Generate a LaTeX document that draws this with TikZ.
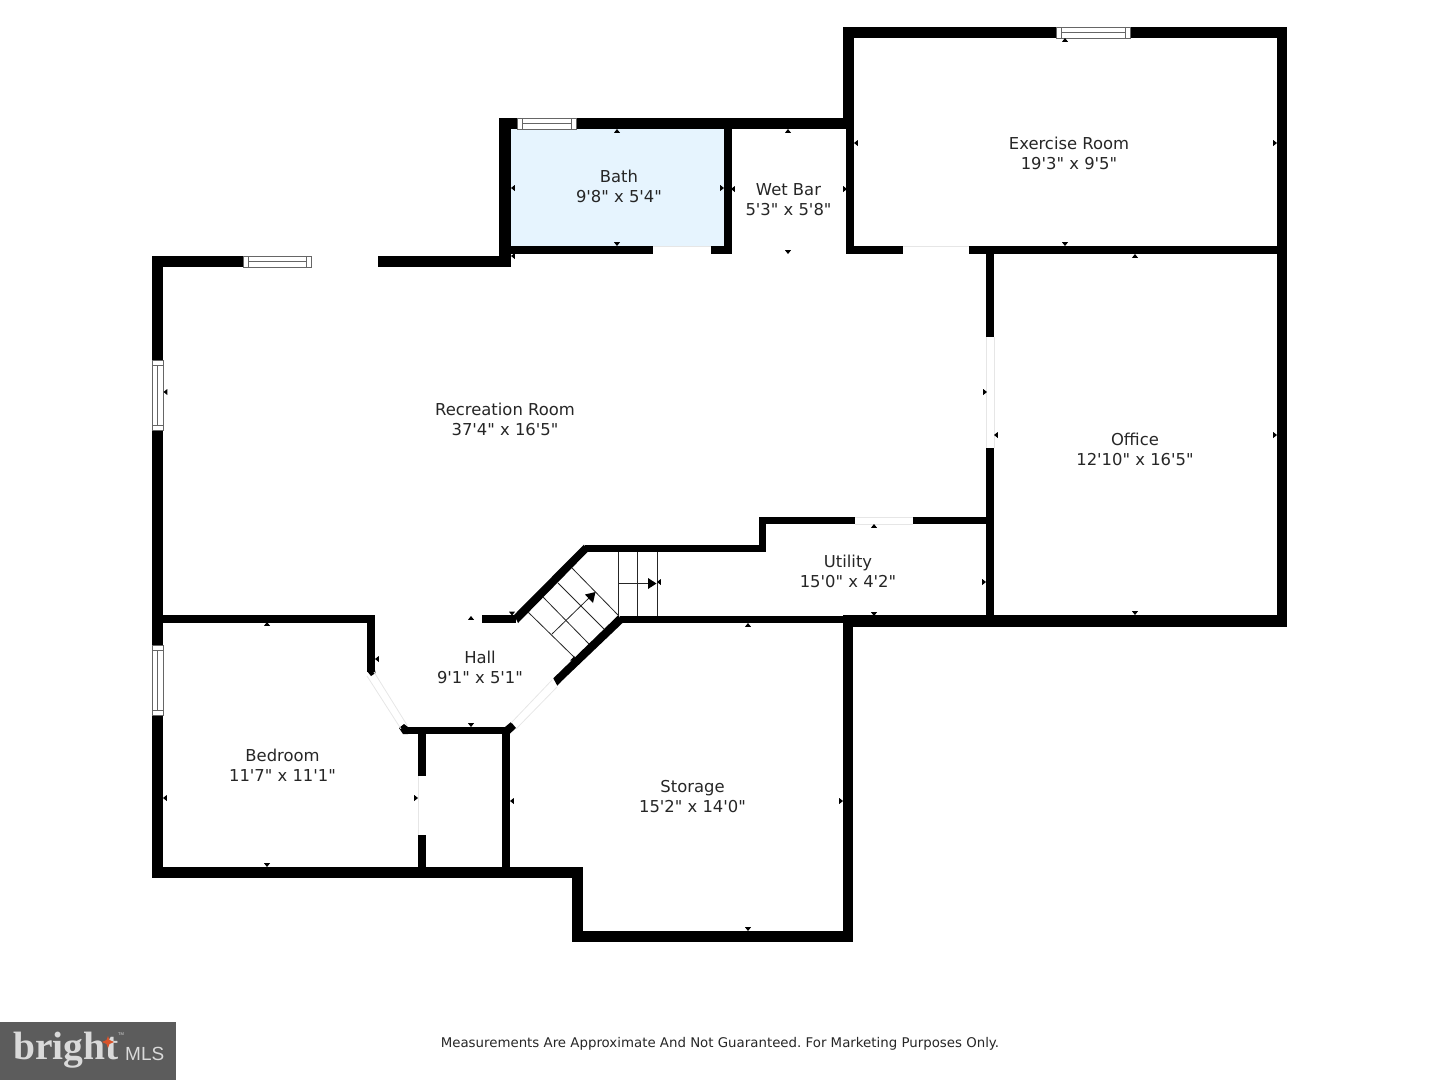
\documentclass[tikz,border=0pt]{standalone}
\usepackage{fontspec}
\newfontfamily\planfont{DejaVu Sans}
\newfontfamily\logofont{Liberation Serif}
\newfontfamily\mlsfont{Liberation Sans}
\definecolor{bathblue}{HTML}{E6F4FE}
\definecolor{logogray}{HTML}{5C5C5C}
\definecolor{logotext}{HTML}{DADADA}
\definecolor{doorgray}{HTML}{E6E6E6}
\definecolor{wingray}{HTML}{666666}
\definecolor{logored}{HTML}{D9542B}
\tikzset{
	roomlabel/.style={align=center, inner sep=0pt, font=\planfont\fontsize{16.4}{20.2}\selectfont, text=black!85},
	wall/.style={fill=black},
	doorline/.style={draw=doorgray, line width=0.8pt},
	winpane/.style={draw=wingray, fill=white, line width=0.9pt},
	stairline/.style={draw=black!85, line width=0.8pt}
}
\begin{document}
\frenchspacing
\begin{tikzpicture}[x=1pt, y=-1pt]
	\useasboundingbox (0,0) rectangle (1440,1080);
	\fill[bathblue] (511,129) rectangle (724,246);

	% walls
	\foreach \xa/\ya/\xb/\yb in {
		843/27/1287/38, 843/27/854/128, 846/128/854/254, 1277/27/1287/627,
		846/246/903/254, 969/246/1287/254,
		499/118/854/129, 499/118/511/267, 724/129/732/254, 511/246/653/254, 711/246/732/254,
		152/256/243/267, 378/256/511/267, 152/256/163/878,
		986/250/994/337, 986/448/994/620,
		759/517/855/524, 913/517/990/524, 759/517/766/552, 585/545/766/552,
		482/615/516/623, 620/616/850/623, 843/615/1287/627,
		843/620/853/942, 572/931/853/942, 572/867/583/942, 152/867/583/878,
		502/730/509.5/870, 418/730/426/776, 418/835/426/870, 404/727/509.5/734,
		152/615/375/622.5, 367/615/375/672}{
		\fill[wall] (\xa,\ya) rectangle (\xb,\yb);
	}
	\fill[wall] (584,544.5) -- (587.5,552) -- (518,623) -- (514,615) -- cycle;
	\fill[wall] (618.5,615) -- (622.5,623) -- (561.7,681) -- (557.3,685.7) -- (553.3,678.3) -- cycle;
	\fill[wall] (367,671) -- (371,676) -- (375.5,673) -- (375,670) -- cycle;
	\fill[wall] (399,728) -- (404,724) -- (408,727) -- (408,734) -- (403,734) -- cycle;
	\fill[wall] (511,722) -- (516,728) -- (509.5,734) -- (505,727) -- cycle;

	% doors
	\foreach \xa/\ya/\xb/\yb in {
		903/246/969/246, 653/246/711/246, 855/517/913/517, 855/524/913/524,
		986/337/986/448, 994/337/994/448, 418/776/418/835,
		367/676/401/729, 374/672/407/725, 511/723/552/680, 516/729/557/687}{
		\draw[doorline] (\xa,\ya) -- (\xb,\yb);
	}

	% windows along the top
	\foreach \xa/\xb/\ya/\yb in {1056/1130/27/38, 517/576/118/129, 243/311/256/267}{
		\fill[white] (\xa,\ya) rectangle (\xb,\yb);
		\draw[winpane] (\xa,\ya) rectangle (\xb,\yb);
		\draw[wingray, line width=0.9pt] (\xa+5,\ya) -- (\xa+5,\yb);
		\draw[wingray, line width=0.9pt] (\xb-5,\ya) -- (\xb-5,\yb);
		\draw[wingray, line width=0.9pt] (\xa+5,\ya+5.5) -- (\xb-5,\ya+5.5);
	}
	% windows along the left
	\foreach \ya/\yb in {360/430, 645/715}{
		\fill[white] (152,\ya) rectangle (163,\yb);
		\draw[winpane] (152,\ya) rectangle (163,\yb);
		\draw[wingray, line width=0.9pt] (152,\ya+5) -- (163,\ya+5);
		\draw[wingray, line width=0.9pt] (152,\yb-5) -- (163,\yb-5);
		\draw[wingray, line width=0.9pt] (157.5,\ya+5) -- (157.5,\yb-5);
	}

	% stairs
	\foreach \xa/\ya/\xb/\yb in {572/568/618/615, 558/583/604/629, 543/597/589/644, 528/612/575/658,
		618/552/618/616, 637/552/637/616, 657/552/657/616}{
		\draw[stairline] (\xa,\ya) -- (\xb,\yb);
	}
	\coordinate (stairA) at (552,634);
	\coordinate (stairB) at (590,597);
	\coordinate (stairC) at (618,583.5);
	\coordinate (stairD) at (650,583.5);
	\draw[stairline] (stairA) -- (stairB);
	\draw[stairline] (stairC) -- (stairD);
	\fill[black] (595.5,592) -- (593,603) -- (585,594.5) -- cycle;
	\fill[black] (656.5,583.5) -- (648,578) -- (648,589) -- cycle;

	% small measuring ticks, tip at x/y, angle gives the direction
	\foreach \x/\y/\a in {
		1065/38/90, 854/143/180, 1277/143/0, 1065/246/270,
		1135/254/90, 994/435/180, 1277/435/0, 1135/615/270,
		788/129/90, 731/189/180, 847/189/0, 788/254/270,
		617/129/90, 511/188/180, 724/188/0, 617/246/270,
		163.5/392/180, 987/392/0, 511/256/180,
		874/524/90, 986/582/0, 874/616/270, 657/582/180,
		748/623/90, 510/801/180, 843/801/0, 748/931/270,
		267/622/90, 163/798/180, 418/798/0, 267/867/270,
		471/616/90, 375/659/180, 471/727/270, 512/615.5/270, 575/661/315}{
		\fill[black, shift={(\x,\y)}, rotate=\a] (0,0) -- (-3.8,-3) -- (-3.8,3) -- cycle;
	}

	% room labels
	\node[roomlabel] (exercise) at (1069,153.5) {Exercise Room\\19'3" x 9'5"};
	\node[roomlabel] (bath) at (619,186.5) {Bath\\9'8" x 5'4"};
	\node[roomlabel] (wetbar) at (788.5,199.5) {Wet Bar\\5'3" x 5'8"};
	\node[roomlabel] (recroom) at (505,419.5) {Recreation Room\\37'4" x 16'5"};
	\node[roomlabel] (office) at (1135,449.5) {Office\\12'10" x 16'5"};
	\node[roomlabel] (utility) at (848,571) {Utility\\15'0" x 4'2"};
	\node[roomlabel] (hall) at (480,667.5) {Hall\\9'1" x 5'1"};
	\node[roomlabel] (bedroom) at (282.5,765) {Bedroom\\11'7" x 11'1"};
	\node[roomlabel] (storage) at (692.5,796.5) {Storage\\15'2" x 14'0"};

	\node[inner sep=0pt, text=black!85, font=\planfont\fontsize{13.35}{16}\selectfont] (disclaimer) at (720,1043.5)
		{Measurements Are Approximate And Not Guaranteed. For Marketing Purposes Only.};

	% logo
	\fill[logogray] (0,1022) rectangle (176,1080);
	\node[inner sep=0pt, anchor=base west, text=logotext, font=\logofont\bfseries\fontsize{39.5}{40}\selectfont] (logobright) at (13,1059.5) {bright};
	\node[inner sep=0pt, anchor=base west, text=logotext, font=\mlsfont\fontsize{19}{19}\selectfont] (logomls) at (125,1060) {MLS};
	\node[inner sep=0pt, text=logotext, font=\mlsfont\fontsize{4}{4}\selectfont] (logotm) at (121,1034) {TM};
	\fill[logored] (108,1036) -- (109.5,1040) -- (114,1042) -- (109.5,1044) -- (108,1048) -- (106.5,1044) -- (102,1042) -- (106.5,1040) -- cycle;
\end{tikzpicture}
\end{document}
